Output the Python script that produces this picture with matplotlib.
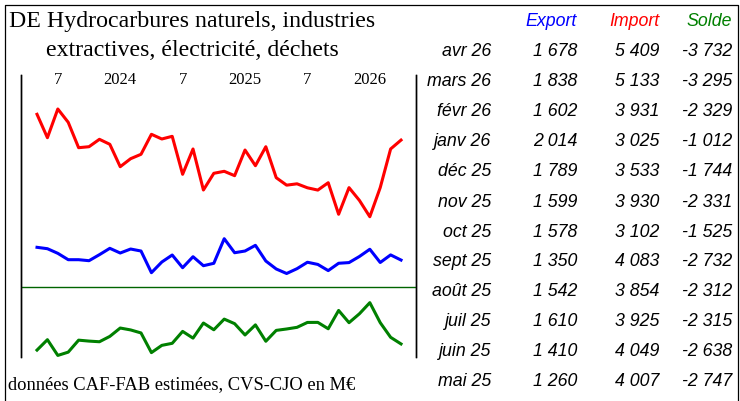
'''
DE - hydrocarbures, industries extractives, électricité, déchets
export / import / solde mensuels, avec tableau des 12 derniers mois
'''
import matplotlib.pyplot as plt
from matplotlib.lines import Line2D
import numpy as np

# Séries mensuelles, mai 2023 -> avr 2026 (M€)
export = [2074, 2031, 1887, 1689, 1689, 1658, 1845, 2043, 1897, 2021, 1959, 1285,
          1617, 1835, 1440, 1782, 1502, 1577, 2342, 1906, 1959, 2136, 1648, 1400,
          1260, 1410, 1610, 1542, 1350, 1578, 1599, 1789, 2014, 1602, 1838, 1678]
importe = [6211, 5483, 6376, 5962, 5172, 5203, 5433, 5278, 4581, 4830, 4967, 5589,
           5443, 5526, 4345, 5132, 3856, 4376, 4438, 4302, 5100, 4612, 5203, 4239,
           4007, 4049, 3925, 3854, 4083, 3102, 3930, 3533, 3025, 3931, 5133, 5409]
solde = [-4137, -3452, -4489, -4273, -3483, -3545, -3588, -3235, -2684, -2809, -3008, -4304,
         -3826, -3691, -2905, -3350, -2354, -2799, -2096, -2396, -3141, -2476, -3555, -2839,
         -2747, -2638, -2315, -2312, -2732, -1525, -2331, -1744, -1012, -2329, -3295, -3732]

# étiquettes de l'axe du temps (index du mois -> texte)
tick_pos = [2, 8, 14, 20, 26, 32]
tick_lab = ['7', '2024', '7', '2025', '7', '2026']

# 12 derniers mois pour le tableau
mois_tab = ['mai 25', 'juin 25', 'juil 25', 'août 25', 'sept 25', 'oct 25',
            'nov 25', 'déc 25', 'janv 26', 'févr 26', 'mars 26', 'avr 26']

W, H = 740, 401
fig = plt.figure(figsize=(W / 100, H / 100), dpi=100)

def fx(px):
    return px / W

def fy(py):
    return 1 - py / H

# cadre général : gauche, haut, droite (pas de trait en bas)
fig.add_artist(Line2D([fx(4.5), fx(4.5), fx(737.5), fx(737.5)], [0, fy(4.5), fy(4.5), 0],
                      transform=fig.transFigure, color='black', lw=0.9))

# zone du graphique
ax = fig.add_axes([fx(21), fy(357), fx(416) - fx(21), fy(75) - fy(357)])
ax2 = ax.twinx()

x = np.arange(len(export))
ax.plot(x, importe, color='#ff0000', lw=2.2)
ax.plot(x, export, color='#0000ff', lw=2.2)
ax2.plot(x, solde, color='#008000', lw=2.2)
ax2.axhline(0, color='#006400', lw=1.0)

ax.set_xlim(-1.54, 36.44)
ax.set_ylim(-1337, 7433)
ax2.set_ylim(-4593, 13991)

for a in (ax, ax2):
    a.set_yticks([])
    a.set_xticks([])
    a.spines['top'].set_visible(False)
    a.spines['bottom'].set_visible(False)
    a.spines['left'].set_linewidth(1.0)
    a.spines['right'].set_linewidth(1.0)

for p, lab in zip(tick_pos, tick_lab):
    ax.text(p, 0.982, lab, transform=ax.get_xaxis_transform(), ha='center', va='center',
            fontsize=12, family='Liberation Serif')

# titre et source
fig.text(fx(192), fy(21), 'DE Hydrocarbures naturels, industries', ha='center', va='center',
         fontsize=17.2, family='Liberation Serif')
fig.text(fx(192), fy(51), 'extractives, électricité, déchets', ha='center', va='center',
         fontsize=17.2, family='Liberation Serif')
fig.text(fx(8), fy(385), 'données CAF-FAB estimées, CVS-CJO en M€', ha='left', va='center',
         fontsize=13.3, family='Liberation Serif')

# tableau
def fmt(v):
    return f'{v:,}'.replace(',', ' ')

tab_font = dict(fontsize=12.8, family='Liberation Sans', style='italic', va='center', ha='right')
fig.text(fx(577), fy(22), 'Export', color='#0000ff', **tab_font)
fig.text(fx(659), fy(22), 'Import', color='#ff0000', **tab_font)
fig.text(fx(732), fy(22), 'Solde', color='#008000', **tab_font)

n = len(mois_tab)
for k in range(n):
    i = len(export) - 1 - k
    yy = fy(52 + 30 * k)
    fig.text(fx(491), yy, mois_tab[n - 1 - k], **tab_font)
    fig.text(fx(577), yy, fmt(export[i]), **tab_font)
    fig.text(fx(659), yy, fmt(importe[i]), **tab_font)
    fig.text(fx(732), yy, fmt(solde[i]), **tab_font)

fig.savefig('out.png', dpi=100)
